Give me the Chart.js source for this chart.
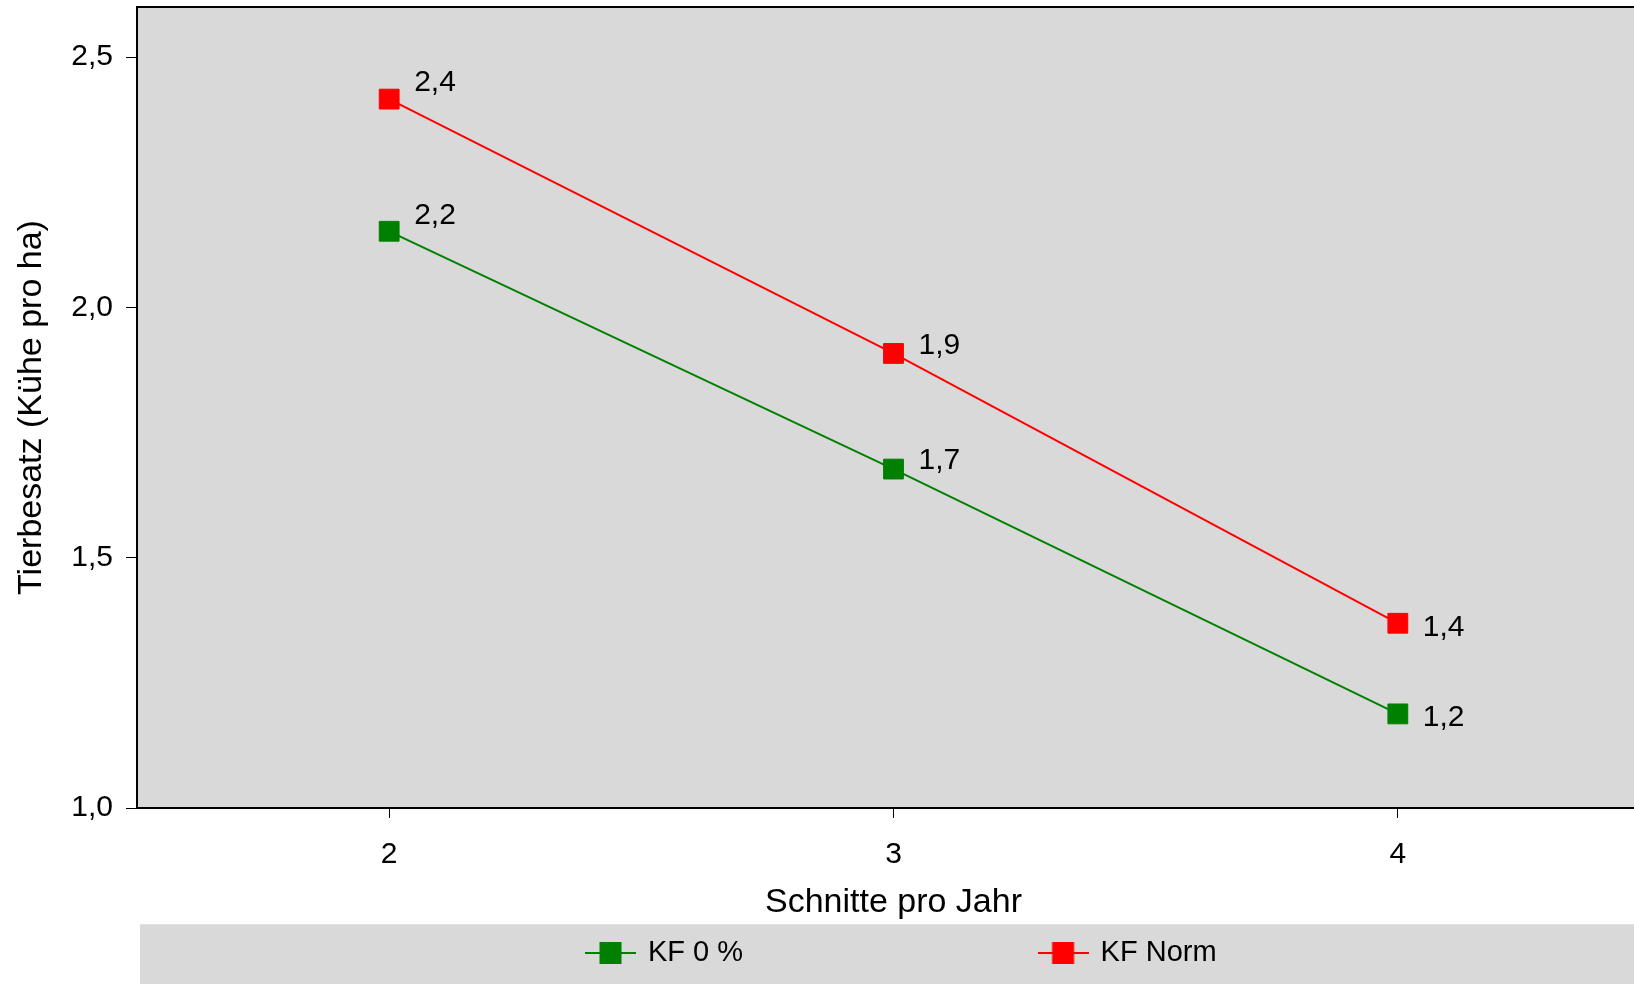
<!DOCTYPE html>
<html><head><meta charset="utf-8">
<script src="https://cdn.jsdelivr.net/npm/chart.js@4.4.1/dist/chart.umd.min.js"></script>
<style>
html,body{margin:0;padding:0;background:#fff;overflow:hidden;width:1634px;height:984px;}
#wrap{position:relative;width:1700px;height:984px;}
</style></head><body>
<div id="wrap"><canvas id="c"></canvas></div>
<script>
// ---- data ----
const categories = ['2', '3', '4'];
const seriesNames = ['KF 0 %', 'KF Norm'];
const kf0Values = [2.152, 1.677, 1.188];
const kfNormValues = [2.416, 1.908, 1.369];
const yTickValues = [1.0, 1.5, 2.0, 2.5];
const xAxisTitle = 'Schnitte pro Jahr';
const yAxisTitle = 'Tierbesatz (Kühe pro ha)';

// ---- style ----
const FONT = 'Arial, "Liberation Sans", sans-serif';
const GREEN = '#008000', RED = '#ff0000', GRAY = '#d9d9d9';
const labelDx = 25;
const labelDy = [-16, -8, 4];
const fmt = v => v.toFixed(1).replace('.', ',');

function legendIcon(color) {
  const c = document.createElement('canvas');
  c.width = 51; c.height = 22;
  const g = c.getContext('2d');
  g.strokeStyle = color; g.lineWidth = 2;
  g.beginPath(); g.moveTo(0, 11); g.lineTo(51, 11); g.stroke();
  g.fillStyle = color; g.fillRect(14.5, 0, 22, 22);
  return c;
}
const icons = [legendIcon(GREEN), legendIcon(RED)];

const bgPlugin = {
  id: 'bg',
  beforeDraw(chart) {
    const {ctx, chartArea: a} = chart;
    ctx.save();
    ctx.fillStyle = GRAY;
    ctx.fillRect(a.left, a.top, a.right - a.left, a.bottom - a.top);
    ctx.fillRect(140, 924, chart.width, 80);
    ctx.fillStyle = '#e4e4e4';
    ctx.fillRect(140, 924, chart.width, 1);
    ctx.restore();
  },
  afterLayout(chart) {
    const lg = chart.legend;
    const pad = lg.options.labels.padding;
    const lw = lg.lineWidths[0];
    const startX = 587.5;
    lg.left = 0;
    lg.right = 2 * startX - pad + lw;
    lg.top = 953 - pad - 14.5;
    lg.bottom = 984;
    lg.width = lg.right - lg.left;
    lg.height = lg.bottom - lg.top;
  },
  afterDatasetsDraw(chart) {
    const ctx = chart.ctx;
    ctx.save();
    ctx.font = '30px ' + FONT;
    ctx.fillStyle = '#000';
    ctx.textAlign = 'left';
    ctx.textBaseline = 'middle';
    chart.data.datasets.forEach((ds, i) => {
      chart.getDatasetMeta(i).data.forEach((el, j) => {
        ctx.fillText(fmt(ds.data[j]), el.x + labelDx, el.y + labelDy[j]);
      });
    });
    ctx.restore();
  },
  afterDraw(chart) {
    const {ctx, chartArea: a} = chart;
    ctx.save();
    ctx.strokeStyle = '#000';
    ctx.lineWidth = 2;
    ctx.strokeRect(a.left, a.top, a.right - a.left, a.bottom - a.top);
    ctx.restore();
  }
};

new Chart(document.getElementById('c'), {
  type: 'line',
  data: {
    labels: categories,
    datasets: [
      { label: seriesNames[0], data: kf0Values, borderColor: GREEN, backgroundColor: GREEN,
        borderWidth: 2, pointStyle: 'rect', pointRadius: 14, pointBorderWidth: 1,
        pointBackgroundColor: GREEN, pointBorderColor: GREEN, tension: 0 },
      { label: seriesNames[1], data: kfNormValues, borderColor: RED, backgroundColor: RED,
        borderWidth: 2, pointStyle: 'rect', pointRadius: 14, pointBorderWidth: 1,
        pointBackgroundColor: RED, pointBorderColor: RED, tension: 0 }
    ]
  },
  options: {
    responsive: true,
    maintainAspectRatio: false,
    devicePixelRatio: 1,
    animation: false,
    layout: { autoPadding: false, padding: { left: 0, right: 50, top: 7, bottom: 0 } },
    plugins: {
      tooltip: { enabled: false },
      legend: {
        position: 'bottom',
        maxHeight: 60,
        labels: {
          usePointStyle: true,
          pointStyleWidth: 46,
          padding: 297,
          color: '#000',
          font: { size: 29, family: FONT },
          generateLabels: chart => chart.data.datasets.map((ds, i) => ({
            text: ds.label, pointStyle: icons[i], fillStyle: ds.backgroundColor,
            strokeStyle: ds.borderColor, lineWidth: 0, hidden: false, datasetIndex: i, fontColor: '#000'
          }))
        }
      }
    },
    scales: {
      x: {
        type: 'category',
        offset: true,
        grid: { display: true, drawOnChartArea: false, drawTicks: true, tickLength: 10, color: '#000', lineWidth: 1, offset: false },
        border: { display: false },
        ticks: { color: '#000', font: { size: 30, family: FONT }, padding: 19 },
        title: { display: true, text: xAxisTitle, color: '#000', font: { size: 34, family: FONT }, padding: { top: 0, bottom: 1 } },
        afterFit: s => { s.height = 116; s.paddingLeft = 0; s.paddingRight = 0; }
      },
      y: {
        type: 'linear',
        min: 1.0,
        max: 2.6,
        grid: { display: true, drawOnChartArea: false, drawTicks: true, tickLength: 11, color: '#000', lineWidth: 1 },
        border: { display: false },
        afterBuildTicks: s => { s.ticks = yTickValues.map(v => ({ value: v })); },
        ticks: { color: '#000', font: { size: 30, family: FONT }, padding: 13, callback: v => fmt(v) },
        title: { display: true, text: yAxisTitle, color: '#000', font: { size: 34, family: FONT }, padding: { top: 11, bottom: 0 } },
        afterFit: s => { s.width = 137; s.paddingTop = 0; s.paddingBottom = 0; }
      }
    }
  },
  plugins: [bgPlugin]
});
</script>
</body></html>
